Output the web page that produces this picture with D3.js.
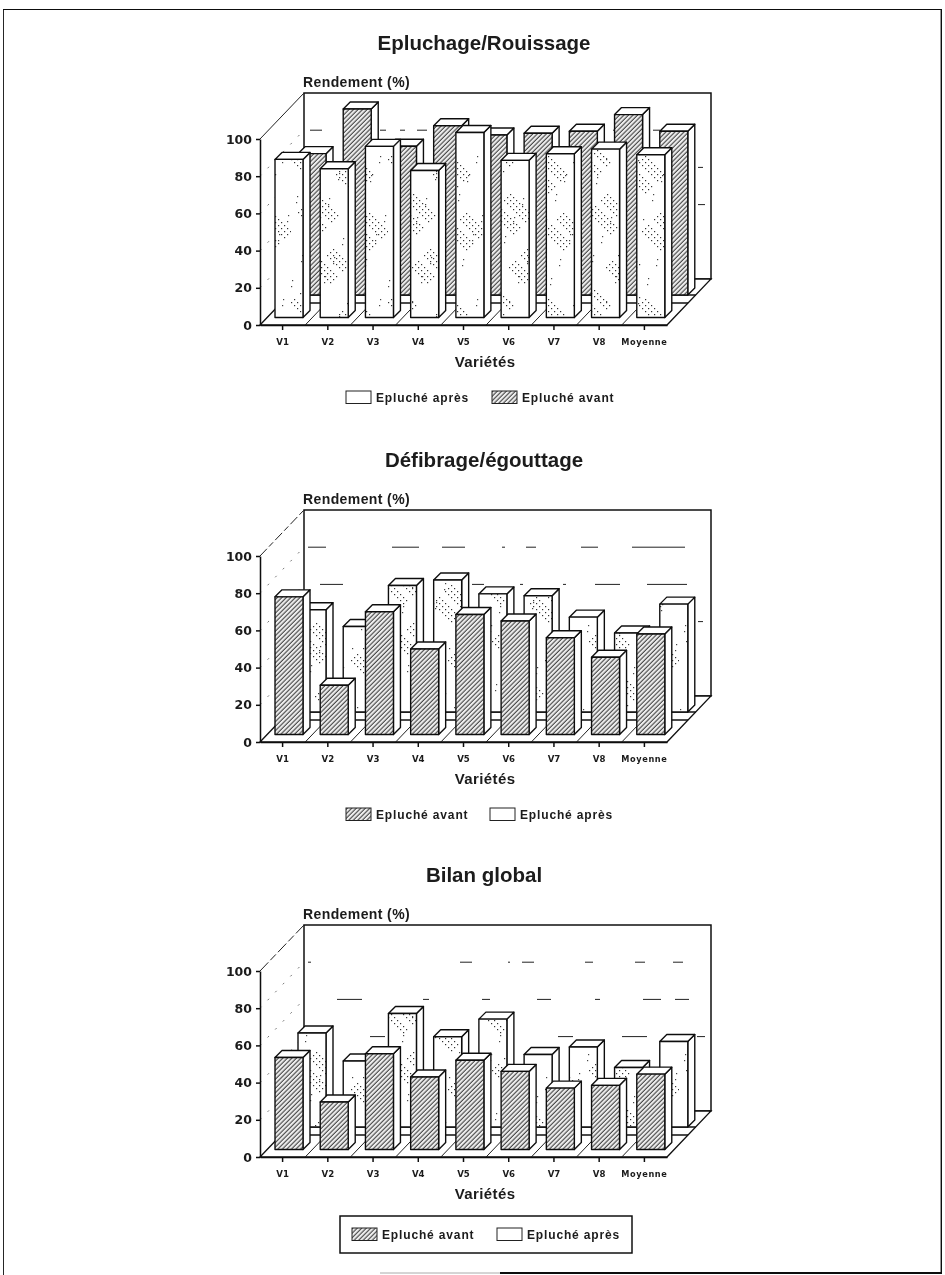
<!DOCTYPE html>
<html>
<head>
<meta charset="utf-8">
<script src="https://cdn.jsdelivr.net/npm/d3@7"></script>
<style>
    html, body { margin: 0; padding: 0; background: #fff; }
    svg { display: block; }
    text { font-family: "Liberation Sans", Arial, sans-serif; fill: #1a1a1a; }
    .axis text { font-weight: bold; }
    .y-axis text { font-family: "DejaVu Sans", sans-serif; font-size: 12.5px; }
    .x-axis text { font-family: "DejaVu Sans", sans-serif; font-size: 8.6px; }
    .axis path, .axis line { stroke: #111; stroke-width: 1.5px; }
</style>
</head>
<body>
<div id="chart"></div>
<script>
// categories
const varietes = ["V1", "V2", "V3", "V4", "V5", "V6", "V7", "V8", "Moyenne"]
const yTicks = [0, 20, 40, 60, 80, 100]

// values (%)
const epluchageAvant = [76, 100, 80, 91, 86, 87, 88, 97, 88]
const epluchageApres = [85, 80, 92, 79, 99.5, 84.5, 88, 90.5, 87.5]
const defibrageAvant = [74, 26.5, 66, 46, 64.5, 61, 52, 41.5, 54]
const defibrageApres = [55, 46, 68, 71, 63.5, 62.5, 51, 42.5, 58]
const bilanAvant = [49.5, 25.5, 51.5, 39, 48, 42, 33, 34.5, 40.5]
const bilanApres = [50.5, 35.5, 61, 48.5, 58, 39, 43, 32, 46]

const svg = d3.select("#chart").append("svg")
    .attr("width", 945)
    .attr("height", 1275)

// textures
const defs = svg.append("defs")

defs.append("filter").attr("id", "scan")
    .attr("x", 0).attr("y", 0).attr("width", 1).attr("height", 1)
    .append("feGaussianBlur").attr("stdDeviation", 0.35)

let hatch = defs.append("pattern")
    .attr("id", "hatch")
    .attr("patternUnits", "userSpaceOnUse")
    .attr("width", 3.2)
    .attr("height", 3.2)
    .attr("patternTransform", "rotate(45)")
hatch.append("rect").attr("width", 3.2).attr("height", 3.2).attr("fill", "#eee")
hatch.append("line")
    .attr("x1", 1).attr("x2", 1).attr("y1", 0).attr("y2", 3.2)
    .attr("stroke", "#333").attr("stroke-width", 1)

// speckle: loose diamond shaped clusters of dots, plus a few strays
let speckle = defs.append("pattern")
    .attr("id", "speckle")
    .attr("patternUnits", "userSpaceOnUse")
    .attr("width", 97)
    .attr("height", 143)
speckle.append("rect").attr("width", 97).attr("height", 143).attr("fill", "#fff")
const clusters = [[14, 18, 17], [62, 30, 20], [26, 70, 22], [78, 88, 18], [40, 122, 19]]
clusters.forEach(c => {
    for (let i = -c[2]; i <= c[2]; i += 3) {
        for (let j = -c[2]; j <= c[2]; j += 3) {
            let keep = Math.abs(i * 7 + j * 13) % 5 !== 0
            if (Math.abs(i) + Math.abs(j) <= c[2] && (i + j) % 2 === 0 && keep) {
                speckle.append("rect")
                    .attr("x", c[0] + i).attr("y", c[1] + j)
                    .attr("width", 1.2).attr("height", 1.2)
                    .attr("fill", "#333")
            }
        }
    }
})
for (let k = 0; k < 40; k++) {
    speckle.append("rect")
        .attr("x", (k * 37) % 97).attr("y", (k * 61) % 143)
        .attr("width", 1.2).attr("height", 1.2)
        .attr("fill", "#444")
}

const page = svg.append("g").attr("filter", "url(#scan)")

// scanned page frame
page.append("path")
    .attr("d", "M3,1275V9H941.5V1273H500")
    .attr("fill", "none").attr("stroke", "#111").attr("stroke-width", 1.8)
page.append("path")
    .attr("d", "M500,1273H380")
    .attr("fill", "none").attr("stroke", "#aaa").attr("stroke-width", 1)

// bar box offsets in the fake 3D view
const wallDepth = 44
const wallRise = 46
const barDepth = 7
const rows = {front: {dx: 7, dy: 7.5}, back: {dx: 30, dy: 30}}
const barWidth = 28
const barPad = 8

function drawChart(cfg) {
    let g = page.append("g")

    let x = d3.scaleBand().domain(varietes).range([260, 667])
    let y = d3.scaleLinear().domain([0, 100]).range([cfg.y0, cfg.y0 - 186])

    let wallLeft = 260 + wallDepth
    let wallRight = 667 + wallDepth

    // title, axis captions
    g.append("text")
        .attr("x", 484).attr("y", cfg.y0 - 275)
        .attr("text-anchor", "middle")
        .attr("font-size", 20.5)
        .attr("font-weight", "bold")
        .text(cfg.title)

    g.append("text")
        .attr("x", 303).attr("y", cfg.y0 - 238.5)
        .attr("font-size", 14)
        .attr("font-weight", "bold")
        .attr("letter-spacing", 0.4)
        .text("Rendement (%)")

    g.append("text")
        .attr("x", 485).attr("y", cfg.y0 + 42)
        .attr("text-anchor", "middle")
        .attr("font-size", 15)
        .attr("font-weight", "bold")
        .attr("letter-spacing", 0.4)
        .text("Variétés")

    // back wall
    g.append("rect")
        .attr("x", wallLeft).attr("y", y(100) - wallRise)
        .attr("width", wallRight - wallLeft).attr("height", 186)
        .attr("fill", "#fff").attr("stroke", "#111").attr("stroke-width", 1.5)

    // what is left of the gridlines on the wall
    cfg.gridDash.forEach(d => {
        g.append("line")
            .attr("x1", wallLeft).attr("x2", wallRight)
            .attr("y1", y(d.value) - wallRise).attr("y2", y(d.value) - wallRise)
            .attr("stroke", "#222").attr("stroke-width", 1)
            .attr("stroke-dasharray", d.dash)
    })

    // left wall
    g.selectAll(".side-grid")
        .data(yTicks.slice(1, 5))
        .enter()
        .append("line")
        .attr("x1", 260).attr("x2", wallLeft)
        .attr("y1", d => y(d)).attr("y2", d => y(d) - wallRise)
        .attr("stroke", "#666").attr("stroke-width", 0.9)
        .attr("stroke-dasharray", "2 9")
    g.append("line")
        .attr("x1", 260).attr("x2", wallLeft)
        .attr("y1", y(100)).attr("y2", y(100) - wallRise)
        .attr("stroke", "#222").attr("stroke-width", 1)
        .attr("stroke-dasharray", cfg.topDash)

    // floor
    g.append("path")
        .attr("d", `M260,${y(0)}L${wallLeft},${y(0) - wallRise}H${wallRight}L667,${y(0)}Z`)
        .attr("fill", "#fff").attr("stroke", "#111").attr("stroke-width", 1.3)

    g.selectAll(".floor-div")
        .data(varietes.slice(1))
        .enter()
        .append("line")
        .attr("x1", d => x(d)).attr("x2", d => x(d) + wallDepth)
        .attr("y1", y(0)).attr("y2", y(0) - wallRise)
        .attr("stroke", "#222").attr("stroke-width", 1)

    // slab under the back row
    g.selectAll(".floor-strip")
        .data([rows.back.dy, rows.back.dy - 8])
        .enter()
        .append("line")
        .attr("x1", d => 260 + d * wallDepth / wallRise)
        .attr("x2", d => 667 + d * wallDepth / wallRise)
        .attr("y1", d => y(0) - d).attr("y2", d => y(0) - d)
        .attr("stroke", "#111").attr("stroke-width", 1.3)

    // bars, back row first
    drawBars(g, x, y, cfg.back, rows.back, cfg.backFill)
    drawBars(g, x, y, cfg.front, rows.front, cfg.frontFill)

    // axes
    let yAxis = d3.axisLeft(y)
        .tickValues(yTicks)
        .tickSize(4)
        .tickSizeOuter(0)
        .tickPadding(4)
    g.append("g")
        .attr("class", "axis y-axis")
        .attr("transform", "translate(260,0)")
        .call(yAxis)

    let xAxis = d3.axisBottom(x)
        .tickSize(5)
        .tickSizeOuter(0)
        .tickPadding(9)
    g.append("g")
        .attr("class", "axis x-axis")
        .attr("transform", `translate(0,${y(0)})`)
        .call(xAxis)
        .selectAll("text")
        .style("font-size", d => d === "Moyenne" ? "8.2px" : null)
        .style("letter-spacing", d => d === "Moyenne" ? "0.6px" : null)

    drawLegend(g, cfg)
}

function drawBars(g, x, y, values, row, fill) {
    let bars = g.selectAll(null)
        .data(varietes.map((d, i) => ({name: d, value: values[i]})))
        .enter()
        .append("g")
        .attr("stroke", "#111")
        .attr("stroke-width", 1.4)
        .attr("stroke-linejoin", "round")

    let left = d => x(d.name) + barPad + row.dx
    let base = y(0) - row.dy
    let top = d => base - (y(0) - y(d.value))

    // side
    bars.append("path")
        .attr("fill", "#fff")
        .attr("d", d => `M${left(d) + barWidth},${top(d)}l${barDepth},${-barDepth}V${base - barDepth}L${left(d) + barWidth},${base}Z`)

    // top
    bars.append("path")
        .attr("fill", "#fff")
        .attr("d", d => `M${left(d)},${top(d)}l${barDepth},${-barDepth}h${barWidth}l${-barDepth},${barDepth}Z`)

    // face
    bars.append("rect")
        .attr("x", left)
        .attr("y", top)
        .attr("width", barWidth)
        .attr("height", d => base - top(d))
        .attr("fill", fill)
}

function drawLegend(g, cfg) {
    let leg = cfg.legend
    if (leg.box) {
        g.append("rect")
            .attr("x", 340).attr("y", leg.y - 12)
            .attr("width", 292).attr("height", 37)
            .attr("fill", "none").attr("stroke", "#111").attr("stroke-width", 1.5)
    }
    leg.items.forEach((item, i) => {
        let sx = leg.x[i]
        g.append("rect")
            .attr("x", sx).attr("y", leg.y)
            .attr("width", 25).attr("height", 12.5)
            .attr("fill", item.fill)
            .attr("stroke", "#222").attr("stroke-width", 1)
        g.append("text")
            .attr("x", sx + 30).attr("y", leg.y + 11)
            .attr("font-size", 12)
            .attr("font-weight", "bold")
            .attr("letter-spacing", 0.85)
            .text(item.label)
    })
}

const avantLabel = "Epluché avant"
const apresLabel = "Epluché après"

drawChart({
    title: "Epluchage/Rouissage",
    y0: 325,
    front: epluchageApres, frontFill: "url(#speckle)",
    back: epluchageAvant, backFill: "url(#hatch)",
    topDash: "none",
    gridDash: [
        {value: 80, dash: "0 6 12 58 6 14 5 12 10 186 4 36 7 60"},
        {value: 60, dash: "0 394 5 20"},
        {value: 40, dash: "0 394 7 20"}
    ],
    legend: {y: 391, x: [346, 492], items: [
        {label: apresLabel, fill: "#fff"},
        {label: avantLabel, fill: "url(#hatch)"}
    ]}
})

drawChart({
    title: "Défibrage/égouttage",
    y0: 742,
    front: defibrageAvant, frontFill: "url(#hatch)",
    back: defibrageApres, backFill: "url(#speckle)",
    topDash: "10 3 6 3",
    gridDash: [
        {value: 80, dash: "0 4 18 66 27 23 23 37 3 21 10 45 17 34 53 24"},
        {value: 60, dash: "0 16 23 129 12 36 3 40 3 29 25 27 40 40"},
        {value: 40, dash: "0 394 5 20"}
    ],
    legend: {y: 808, x: [346, 490], items: [
        {label: avantLabel, fill: "url(#hatch)"},
        {label: apresLabel, fill: "#fff"}
    ]}
})

drawChart({
    title: "Bilan global",
    y0: 1157,
    front: bilanAvant, frontFill: "url(#hatch)",
    back: bilanApres, backFill: "url(#speckle)",
    topDash: "12 3 8 3",
    gridDash: [
        {value: 80, dash: "0 4 3 149 12 36 2 12 12 51 8 42 10 28 10 40"},
        {value: 60, dash: "0 33 25 61 6 53 8 47 14 44 5 43 18 14 14 30"},
        {value: 40, dash: "0 66 15 173 15 49 25 50 8 20"}
    ],
    legend: {y: 1228, box: true, x: [352, 497], items: [
        {label: avantLabel, fill: "url(#hatch)"},
        {label: apresLabel, fill: "#fff"}
    ]}
})
</script>
</body>
</html>
